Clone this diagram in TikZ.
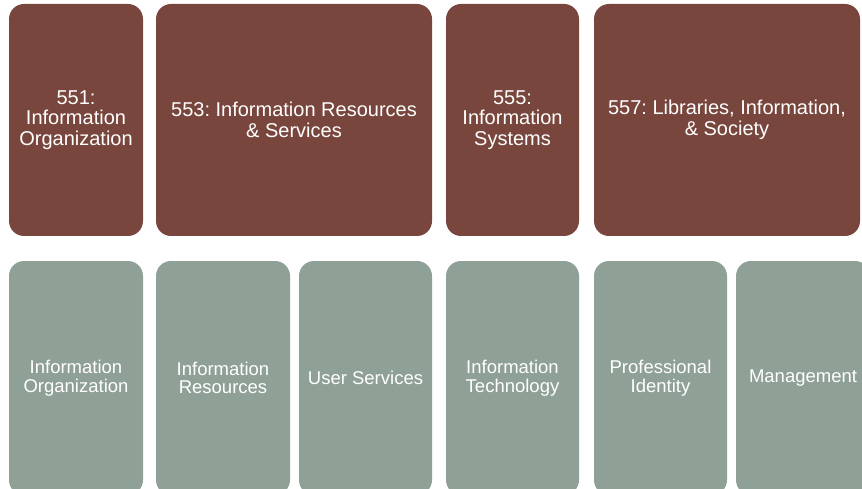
\documentclass[tikz,border=0pt]{standalone}
\usepackage{fontspec}
\setmainfont{Liberation Sans}
\frenchspacing
\definecolor{coursebrown}{HTML}{79463D}
\definecolor{areagreen}{HTML}{8FA096}

\begin{document}
\begin{tikzpicture}[x=1pt, y=-1pt,
    course/.style = {rectangle, rounded corners=15pt, fill=coursebrown, text=white,
                     align=center, inner sep=0pt, minimum height=232pt,
                     font=\fontsize{20}{20.5}\selectfont},
    area/.style   = {rectangle, rounded corners=15pt, fill=areagreen, text=white,
                     align=center, inner sep=0pt, minimum height=234pt,
                     minimum width=134pt, font=\fontsize{18.5}{18.5}\selectfont}]
                \useasboundingbox (0,0) rectangle (862,489);
                \begin{scope}
                \clip (0,0) rectangle (862,489);

                % courses
                \node (c551) [course, minimum width=134pt] at (76,120) {551:\\Information\\Organization};
                \node (c553) [course, minimum width=276pt] at (294,120) {553: Information Resources\\\& Services};
                \node (c555) [course, minimum width=133pt] at (512.5,120) {555:\\Information\\Systems};
                \node (c557) [course, minimum width=266pt] at (727,120) {557: Libraries, Information,\\\& Society};

                % areas
                \node (org)  [area] at (76,378)    {Information\\Organization};
                \node (res)  [area] at (223,378)   {Information\\Resources};
                \node (user) [area, minimum width=133pt] at (365.5,378) {User Services};
                \node (tech) [area, minimum width=133pt] at (512.5,378) {Information\\Technology};
                \node (prof) [area, minimum width=133pt] at (660.5,378) {Professional\\Identity};
                \node (mgmt) [area] at (803,378)   {Management};
                \end{scope}
            \end{tikzpicture}
\end{document}
